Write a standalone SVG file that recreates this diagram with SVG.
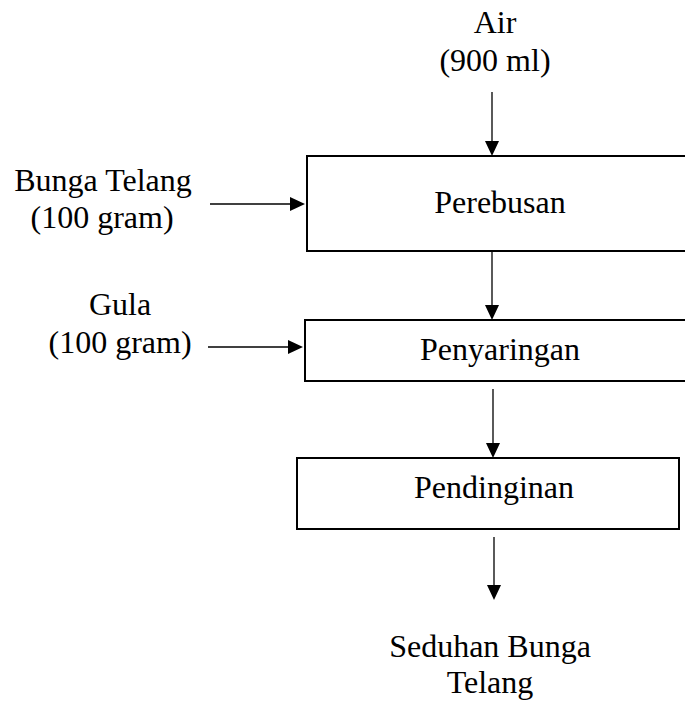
<svg xmlns="http://www.w3.org/2000/svg" width="685" height="708" viewBox="0 0 685 708">
<style>
.box{fill:#fff;stroke:#000;stroke-width:2}
.ln{stroke:#000;stroke-width:1.3;fill:none}
.hd{fill:#000}
</style>
<rect width="685" height="708" fill="#fff"/>
<g font-family="Liberation Serif, DejaVu Serif, serif" font-size="32" fill="#000" text-anchor="middle">
<g id="input-air"><text x="495" y="33">Air</text><text x="495" y="71">(900 ml)</text></g>
<g id="input-bunga"><text x="103" y="191">Bunga Telang</text><text x="102" y="228">(100 gram)</text></g>
<g id="input-gula"><text x="120" y="315">Gula</text><text x="120" y="353">(100 gram)</text></g>
<g id="perebusan"><rect class="box" x="307" y="156" width="385" height="95"/><text x="500" y="213">Perebusan</text></g>
<g id="penyaringan"><rect class="box" x="305" y="320" width="387" height="61"/><text x="500" y="360">Penyaringan</text></g>
<g id="pendinginan"><rect class="box" x="297" y="458" width="382" height="71"/><text x="494" y="498">Pendinginan</text></g>
<g id="output"><text x="490" y="657">Seduhan Bunga</text><text x="490" y="693">Telang</text></g>
</g>
<g id="connectors">
<line class="ln" x1="492" y1="92" x2="492" y2="142"/><polygon class="hd" points="485,141 499,141 492,156"/>
<line class="ln" x1="210" y1="204" x2="292" y2="204"/><polygon class="hd" points="290,197 290,211 305,204"/>
<line class="ln" x1="208" y1="347" x2="290" y2="347"/><polygon class="hd" points="288,340 288,354 303,347"/>
<line class="ln" x1="492" y1="252" x2="492" y2="306"/><polygon class="hd" points="485,305 499,305 492,320"/>
<line class="ln" x1="493" y1="389" x2="493" y2="444"/><polygon class="hd" points="486,443 500,443 493,458"/>
<line class="ln" x1="494" y1="537" x2="494" y2="586"/><polygon class="hd" points="487,585 501,585 494,600"/>
</g>
</svg>
